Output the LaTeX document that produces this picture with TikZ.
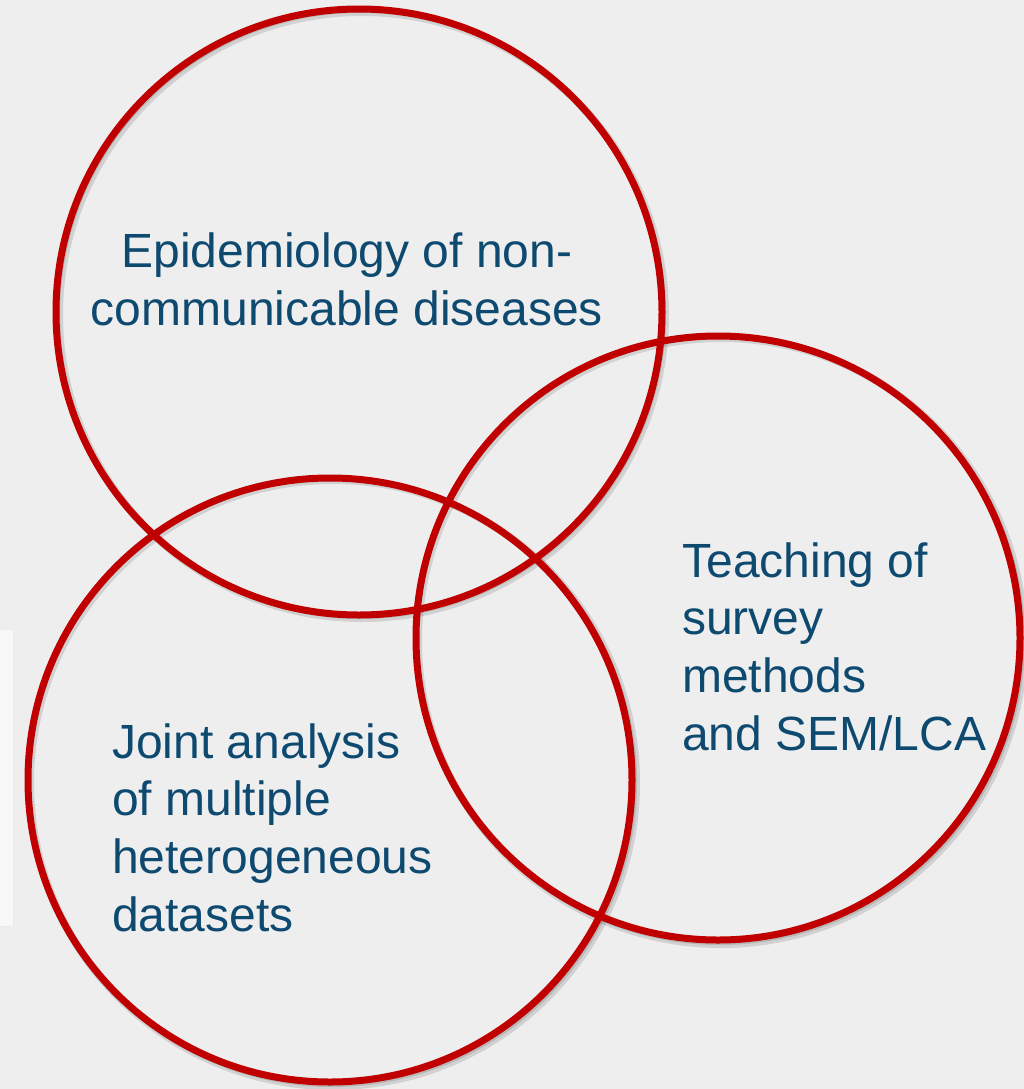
\documentclass[tikz,border=0pt]{standalone}
\usepackage{fontspec}
\setmainfont{Liberation Sans}
\usepackage{tikz}
\usetikzlibrary{positioning}

\definecolor{bgcol}{RGB}{238,238,238}
\definecolor{ringred}{RGB}{192,0,0}
\definecolor{textblue}{RGB}{14,73,112}

\begin{document}
\begin{tikzpicture}[x=0.75pt,y=0.75pt,
    ring/.style={draw=ringred,line width=5.25pt},
    ringshadow/.style={draw=black,line width=6pt,opacity=0.12},
    topic/.style={text=textblue,inner sep=0pt,font=\fontsize{36}{43.2}\selectfont}]
      \fill[bgcol] (0,0) rectangle (1024,-1089);
      \useasboundingbox (0,0) rectangle (1024,-1089);

      % panel cut off at the left edge
      \draw[draw=black!8,fill=white!60!bgcol] (-5,-629) rectangle (13,-926);

      \coordinate (ctop) at (359,-312);
      \coordinate (cright) at (718,-638);
      \coordinate (cleft) at (330,-780);

      % shadows
      \foreach \c in {ctop,cright,cleft}{
        \draw[ringshadow] ([shift={(3,-3)}]\c) circle (303);
        \draw[ringshadow,line width=3pt] ([shift={(2,-2)}]\c) circle (303);
      }

      \draw[ring] (ctop) circle (303);
      \draw[ring] (cright) circle (302);
      \draw[ring] (cleft) circle (302);

      % base anchor sits on the last line
      \node (epi) [topic,align=center,anchor=base] at (347,-325)
        {Epidemiology of non-\\communicable diseases};
      \node (teach) [topic,align=left,anchor=base west] at (682,-750)
        {Teaching of\\survey\\methods\\and SEM/LCA};
      \node (joint) [topic,align=left,anchor=base west] at (112,-931)
        {Joint analysis\\of multiple\\heterogeneous\\datasets};
\end{tikzpicture}
\end{document}
